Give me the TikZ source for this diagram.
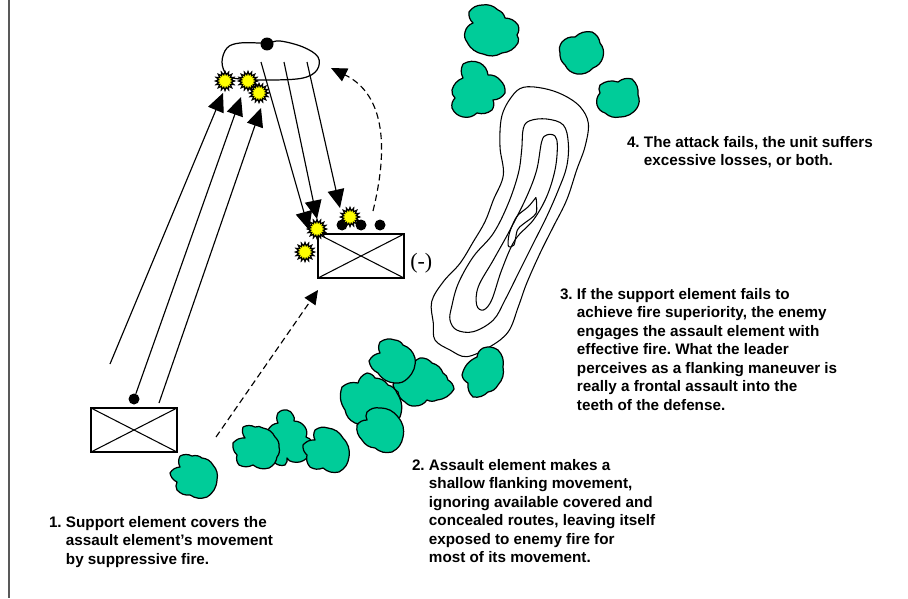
\documentclass[tikz,border=0pt]{standalone}
\usepackage{fontspec}
\setmainfont{Liberation Sans}
\newfontfamily\serifpart{Liberation Serif}
\usetikzlibrary{arrows.meta,shapes.geometric}

\definecolor{treegreen}{rgb}{0.0, 0.8, 0.6}
\definecolor{burst}{rgb}{1.0, 1.0, 0.0}

\newcommand{\stepnote}[2]{#1~\begin{tabular}[t]{@{}l@{}}#2\end{tabular}}
\newcommand{\drawtree}[2]{\draw[treeblob] #1 foreach \tx/\ty in {#2} {to[bend left=26] (\tx,\ty)} to[bend left=26] #1;}

\tikzset{
	unitbox/.style={draw,line width=0.9pt,inner sep=0pt,outer sep=0pt,minimum width=1.72cm,minimum height=0.88cm},
	gundot/.style={circle,fill=black,inner sep=0pt,outer sep=0pt,minimum size=0.22cm},
	flash/.style={star,star points=16,star point ratio=1.5,draw=black,fill=burst,line width=0.7pt,inner sep=0pt,outer sep=0pt,minimum size=0.38cm},
	fireline/.style={line width=0.65pt,-{Triangle[length=10.5pt,width=9.5pt]}},
	moveline/.style={line width=0.65pt,dash pattern=on 3.7pt off 2.2pt,-{Triangle[length=8pt,width=7.5pt]}},
	treeblob/.style={draw=black,fill=treegreen,line width=0.7pt,line join=round},
	contour/.style={draw=black,line width=0.6pt,tension=0.6},
	stepnotetext/.style={anchor=base west,inner sep=0pt,outer sep=0pt,font=\fontsize{8.68}{10.55}\selectfont\bfseries\frenchspacing}
}

\begin{document}
\begin{tikzpicture}[x=0.02cm,y=-0.02cm]
	\useasboundingbox (0,0) rectangle (908,598);

	\coordinate (frametop) at (9,0);
	\coordinate (framebot) at (9,598);
	\draw[line width=0.9pt,black!65] (frametop) -- (framebot);

	% hill contours
	\begin{scope}[shift={(430,0)},scale=1/3]
		\draw[contour] plot[smooth cycle] coordinates {(280,262) (340,265) (400,285) (450,320) (475,370) (465,440) (440,510) (410,600) (370,680) (330,760) (290,850) (265,920) (235,995) (180,1040) (110,1070) (60,1050) (15,1020) (10,970) (5,905) (40,845) (90,790) (130,725) (165,665) (190,600) (220,525) (210,440) (215,350) (245,290)};
		\draw[contour] plot[smooth cycle] coordinates {(280,385) (300,362) (350,357) (400,375) (415,430) (410,500) (385,570) (350,650) (310,730) (265,820) (225,900) (190,960) (130,995) (80,990) (60,960) (65,920) (85,850) (130,770) (190,700) (235,610) (265,520) (275,450)};
		\draw[contour] plot[smooth cycle] coordinates {(335,425) (350,405) (375,408) (382,440) (375,510) (350,590) (310,660) (255,720) (215,810) (185,900) (160,930) (140,915) (145,860) (190,780) (240,690) (290,590) (320,510)};
		\draw[line width=0.6pt,tension=0.5] plot[smooth] coordinates {(318,592) (318,640) (280,672) (262,690) (252,735) (235,738) (238,700) (260,650) (295,620) (318,592)};
	\end{scope}

	% trees, back to front
	\drawtree{(180,456)}{192/456,202/458,213/465,217/480,207/497,190/495,177/490,177/482,170/473,180/467}
	\drawtree{(287,410)}{293/415,294/421,305/427,306/437,312/442,307/458,293/462,287/458,285/465,275/463,275/447,268/430,278/423,278/413}
	\drawtree{(243,427)}{255/427,263/428,275/437,279/447,277/457,269/468,253/465,239/465,237/455,233/443,245/438}
	\drawtree{(315,430)}{328/428,343/438,349/457,339/472,323/468,310/467,307/455,303/445,315/440}
	\drawtree{(420,358)}{432/363,443/373,448/380,454/389,437/400,427/400,415/406,405/402,398/392,393/385,412/367}
	\drawtree{(367,373)}{375/378,388/385,397/393,400/417,377/420,355/423,345/410,342/387,358/383}
	\drawtree{(380,342)}{395/340,403/345,415/358,408/378,395/383,378/373,369/361,380/353}
	\drawtree{(367,412)}{380/408,398/417,403/437,392/452,375/448,362/440,357/425,367/420}
	\drawtree{(483,348)}{498/350,503/367,498/385,488/392,473/397,468/383,462/375,477/357}
	\drawtree{(482,5)}{498/10,505/18,518/25,517/35,518/43,502/53,483/54,467/42,465/32,473/23,469/12}
	\drawtree{(562,42)}{575/37,592/32,600/43,603/57,593/68,577/74,565/65,560/53}
	\drawtree{(463,64)}{480/63,488/75,500/80,505/93,493/100,492/110,477/113,463/117,452/108,455/98,452/90,463/78}
	\drawtree{(600,85)}{618/82,632/79,638/95,637/108,620/117,605/113,597/105,600/93}

	% objective outline
	\draw[line width=0.7pt,tension=0.6] plot[smooth cycle] coordinates {(267,43) (240,43) (227,48) (222,62) (227,75) (240,79) (273,80) (303,78) (317,70) (318,57) (303,47) (280,41)};

	% units
	\node[unitbox] (support) at (134,430) {};
	\node[unitbox] (assault) at (361,256) {};
	\draw[line width=0.6pt] (support.north west) -- (support.south east);
	\draw[line width=0.6pt] (support.south west) -- (support.north east);
	\draw[line width=0.6pt] (assault.north west) -- (assault.south east);
	\draw[line width=0.6pt] (assault.south west) -- (assault.north east);
	\node[right,inner sep=0pt,font=\serifpart\fontsize{12.5}{14}\selectfont] (minus) at (410,263) {(-)};

	% weapons
	\node[gundot,minimum size=0.26cm] (enemydot) at (267,44) {};
	\node[gundot] (supportdot) at (134,399) {};
	\node[gundot] (assaultdota) at (342,225) {};
	\node[gundot] (assaultdotb) at (361,225) {};
	\node[gundot] (assaultdotc) at (380,225) {};

	% fire lines
	\coordinate (tailone) at (110,364);
	\coordinate (tailthree) at (159,403);
	\coordinate (tipone) at (223,93);
	\coordinate (tiptwo) at (241,97);
	\coordinate (tipthree) at (261,108);
	\draw[fireline] (tailone) -- (tipone);
	\draw[fireline] (supportdot) -- (tiptwo);
	\draw[fireline] (tailthree) -- (tipthree);

	\coordinate (downa) at (261,62);
	\coordinate (downb) at (284,62);
	\coordinate (downc) at (307,62);
	\coordinate (hita) at (309,230);
	\coordinate (hitb) at (317,219);
	\coordinate (hitc) at (340,208);
	\draw[fireline] (downa) -- (hita);
	\draw[fireline] (downb) -- (hitb);
	\draw[fireline] (downc) -- (hitc);

	% movement
	\coordinate (movestart) at (216,437);
	\coordinate (moveend) at (318,290);
	\draw[moveline] (movestart) -- (moveend);
	\coordinate (flankstart) at (373,211);
	\coordinate (flankend) at (331,68);
	\draw[moveline,-{Triangle[length=9pt,width=8pt]}] (flankstart) .. controls (388,150) and (386,95) .. (flankend);

	% muzzle flashes
	\node[flash] (flasha) at (225,81) {};
	\node[flash] (flashb) at (248,81) {};
	\node[flash] (flashc) at (259,93) {};
	\node[flash] (flashd) at (317,229) {};
	\node[flash] (flashe) at (350,217) {};
	\node[flash] (flashf) at (305,252) {};

	% numbered steps
	\node[stepnotetext] (noteone) at (49,527) {\stepnote{1.}{Support element covers the\\assault element’s movement\\by suppressive fire.}};
	\node[stepnotetext] (notetwo) at (412,470) {\stepnote{2.}{Assault element makes a\\shallow flanking movement,\\ignoring available covered and\\concealed routes, leaving itself\\exposed to enemy fire for\\most of its movement.}};
	\node[stepnotetext] (notethree) at (560,299) {\stepnote{3.}{If the support element fails to\\achieve fire superiority, the enemy\\engages the assault element with\\effective fire. What the leader\\perceives as a flanking maneuver is\\really a frontal assault into the\\teeth of the defense.}};
	\node[stepnotetext] (notefour) at (627,147) {\stepnote{4.}{The attack fails, the unit suffers\\excessive losses, or both.}};
\end{tikzpicture}
\end{document}
